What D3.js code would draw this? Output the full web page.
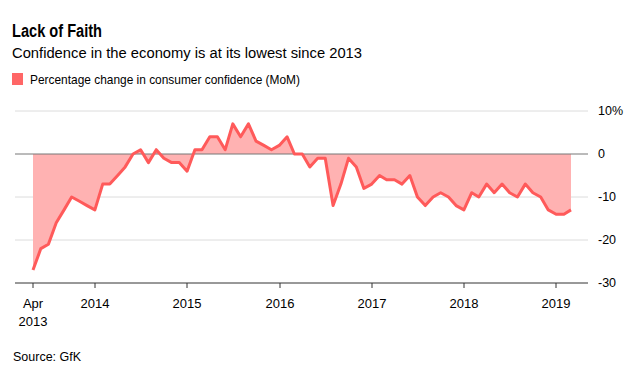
<!DOCTYPE html>
<html>
<head>
<meta charset="utf-8">
<script src="https://cdn.jsdelivr.net/npm/d3@7"></script>
<style>
  body { margin: 0; background: #fff; }
  svg text { font-family: "Liberation Sans", Arial, sans-serif; fill: #000; }
</style>
</head>
<body>
<div id="chart"></div>
<script>
// Percentage change in consumer confidence (MoM), Apr 2013 - Feb 2019
var startMonth = "2013-04";
var endMonth = "2019-02";
var values = [
    -27, -22, -21, -16, -13, -10, -11, -12, -13,          // 2013 Apr-Dec
    -7, -7, -5, -3, 0, 1, -2, 1, -1, -2, -2, -4,          // 2014
    1, 1, 4, 4, 1, 7, 4, 7, 3, 2, 1, 2,                   // 2015
    4, 0, 0, -3, -1, -1, -12, -7, -1, -3, -8, -7,         // 2016
    -5, -6, -6, -7, -5, -10, -12, -10, -9, -10, -12, -13, // 2017
    -9, -10, -7, -9, -7, -9, -10, -7, -9, -10, -13, -14,  // 2018
    -14, -13                                              // 2019
];
var yTicks = [10, 0, -10, -20, -30];
var xTickLabels = [["Apr", "2013"], ["2014"], ["2015"], ["2016"], ["2017"], ["2018"], ["2019"]];

var width = 639;
var height = 376;

var svg = d3.select("#chart")
    .append("svg")
    .attr("width", width)
    .attr("height", height);

// month-end dates for each data point
var parseMonth = d3.timeParse("%Y-%m");
var months = d3.timeMonth.range(parseMonth(startMonth), d3.timeMonth.offset(parseMonth(endMonth), 1));
var data = months.map((m, i) => ({
    date: new Date(m.getFullYear(), m.getMonth() + 1, 0),
    value: values[i]
}));

var x = d3.scaleTime()
    .domain(d3.extent(data, d => d.date))
    .range([33, 571]);

var y = d3.scaleLinear()
    .domain([-30, 10])
    .range([283, 111]);

var xTickDates = [data[0].date].concat(d3.range(2014, 2020).map(yr => new Date(yr, 0, 1)));

// Titles (the original face is narrower, so squeeze to its width)
svg.append("text")
    .attr("x", 12).attr("y", 36.5)
    .attr("textLength", 90).attr("lengthAdjust", "spacingAndGlyphs")
    .style("font-size", "18px").style("font-weight", "bold")
    .text("Lack of Faith");

svg.append("text")
    .attr("x", 12).attr("y", 57.5)
    .attr("textLength", 350).attr("lengthAdjust", "spacingAndGlyphs")
    .style("font-size", "15.5px")
    .text("Confidence in the economy is at its lowest since 2013");

// Legend
svg.append("rect")
    .attr("x", 12).attr("y", 73)
    .attr("width", 11).attr("height", 12)
    .attr("fill", "#ff6666");

svg.append("text")
    .attr("x", 30).attr("y", 84)
    .attr("textLength", 270).attr("lengthAdjust", "spacingAndGlyphs")
    .style("font-size", "13.5px")
    .text("Percentage change in consumer confidence (MoM)");

// Grid lines
svg.append("g")
    .selectAll("line")
    .data(yTicks.filter(d => d != 0 && d != -30))
    .join("line")
    .attr("x1", 15).attr("x2", 588)
    .attr("y1", d => y(d)).attr("y2", d => y(d))
    .attr("stroke", "#dcdcdc")
    .attr("stroke-width", 1);

// Area
svg.append("path")
    .datum(data)
    .attr("fill", "#ffb2b2")
    .attr("d", d3.area()
        .x(d => x(d.date))
        .y0(y(0))
        .y1(d => y(d.value)));

// Zero line
svg.append("line")
    .attr("x1", 15).attr("x2", 588)
    .attr("y1", y(0)).attr("y2", y(0))
    .attr("stroke", "#777")
    .attr("stroke-width", 1);

// Line
svg.append("path")
    .datum(data)
    .attr("fill", "none")
    .attr("stroke", "#ff5a5a")
    .attr("stroke-width", 3)
    .attr("stroke-linejoin", "round")
    .attr("d", d3.line()
        .x(d => x(d.date))
        .y(d => y(d.value)));

// Y labels
svg.append("g")
    .selectAll("text")
    .data(yTicks)
    .join("text")
    .attr("x", 598)
    .attr("y", d => y(d))
    .attr("dy", "0.35em")
    .style("font-size", "12.5px")
    .text(d => d == 10 ? "10%" : d);

// X axis line
svg.append("line")
    .attr("x1", 15).attr("x2", 588)
    .attr("y1", y(-30)).attr("y2", y(-30))
    .attr("stroke", "#333")
    .attr("stroke-width", 1);

var xTicks = svg.append("g")
    .selectAll("g")
    .data(xTickDates)
    .join("g")
    .attr("transform", d => "translate(" + Math.round(x(d)) + "," + y(-30) + ")");

xTicks.append("line")
    .attr("y1", 0).attr("y2", 5)
    .attr("stroke", "#333");

xTicks.append("text")
    .attr("text-anchor", "middle")
    .style("font-size", "13px")
    .selectAll("tspan")
    .data((d, i) => xTickLabels[i])
    .join("tspan")
    .attr("x", 0)
    .attr("y", (d, i) => 25 + i * 17.5)
    .text(d => d);

// Source
svg.append("text")
    .attr("x", 13).attr("y", 361)
    .style("font-size", "12.5px")
    .text("Source: GfK");
</script>
</body>
</html>
